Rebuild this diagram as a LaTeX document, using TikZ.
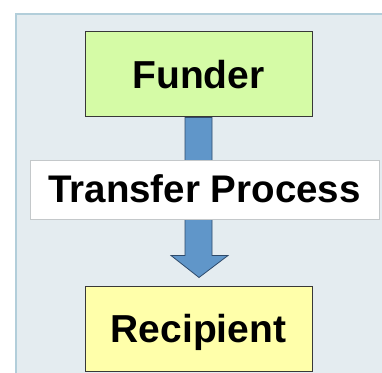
\documentclass[tikz,border=0pt]{standalone}
\usepackage{fontspec}
\setmainfont{Liberation Sans}
\usetikzlibrary{calc}
\definecolor{panelfill}{HTML}{E4ECF0}
\definecolor{panelline}{HTML}{B2CEDA}
\definecolor{funderfill}{HTML}{D5FBA6}
\definecolor{recipfill}{HTML}{FFFFAA}
\definecolor{arrowfill}{HTML}{6096C9}
\definecolor{arrowline}{HTML}{2E4A6A}
\definecolor{boxline}{HTML}{383838}
\definecolor{labelline}{HTML}{C4C8CA}
\tikzset{
  x=1pt, y=1pt,
  bigtext/.style={font=\fontsize{39}{40}\selectfont\bfseries, text height=28pt, text depth=0pt, inner sep=0pt},
  partybox/.style={bigtext, draw=boxline, line width=1pt, minimum width=227pt, minimum height=85pt},
  labelbox/.style={font=\fontsize{38.5}{40}\selectfont\bfseries, text height=27pt, text depth=0pt, inner sep=0pt,
    fill=white, draw=labelline, line width=0.8pt, minimum width=349pt, minimum height=59pt},
  bigarrow/.style={fill=arrowfill, draw=arrowline, line width=0.8pt, line join=miter}
}
\begin{document}
\begin{tikzpicture}
\useasboundingbox (0,0) rectangle (382,372);
\clip (0,0) rectangle (382,372);
% panel
\fill[panelfill] (16,-5) rectangle (390,358);
\draw[panelline, line width=2pt] (16,-5) -- (16,358) -- (390,358);
% boxes
\node[partybox, fill=funderfill] (f) at (198.5,297.5) {Funder};
\node[partybox, fill=recipfill] (r) at (198.5,43.5) {Recipient};
% arrow
\draw[bigarrow] ($(f.south)+(-13.5,0)$) -- ($(f.south)+(13.5,0)$)
  -- ($(r.north)+(13.5,30)$) -- ($(r.north)+(29.5,30)$)
  -- ($(r.north)+(0.5,8)$) -- ($(r.north)+(-27.5,30)$)
  -- ($(r.north)+(-13.5,30)$) -- cycle;
% label
\node[labelbox] (lab) at (204.5,182.5) {Transfer Process};
\end{tikzpicture}
\end{document}
